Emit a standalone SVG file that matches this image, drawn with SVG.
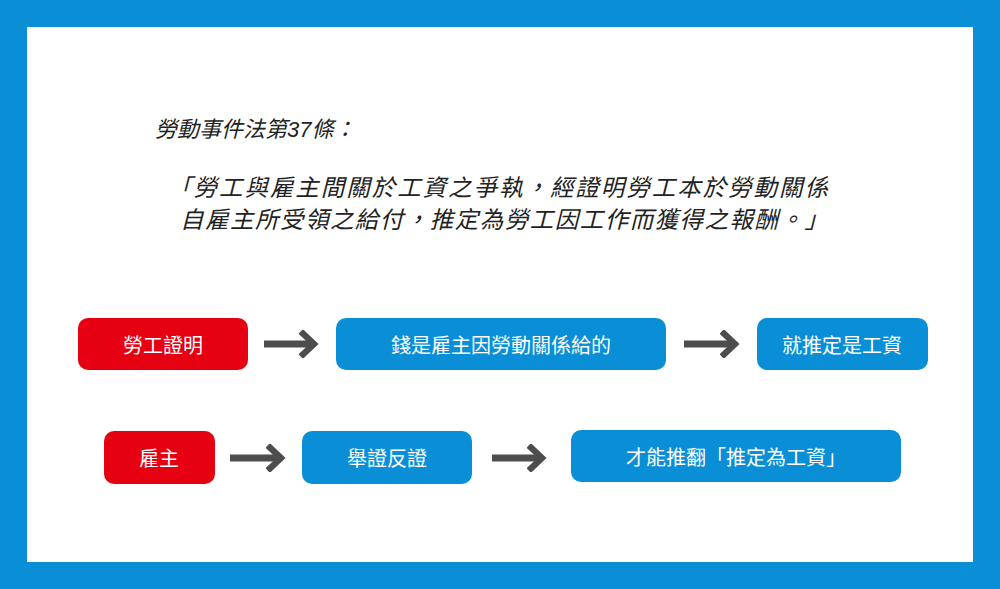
<svg xmlns="http://www.w3.org/2000/svg" width="1000" height="589" viewBox="0 0 1000 589">
<style>
.t{font-family:"Liberation Sans","Noto Sans CJK TC",sans-serif;font-style:italic;fill:#222}
.b{font-family:"Noto Sans CJK TC",sans-serif;font-size:20px;fill:#fff;text-anchor:middle;dominant-baseline:central}
.red{fill:#e50012}.blue{fill:#0a8fd6}
.arr{stroke:#4d4d4d;stroke-width:7;fill:none}
</style>
<defs><marker id="m" markerWidth="4" markerHeight="4" refX="2.2" refY="2" orient="auto" markerUnits="strokeWidth"><path d="M0.3,0.2 L2.2,2 L0.3,3.8" fill="none" stroke="#4d4d4d" stroke-width="0.9"/></marker></defs>
<rect x="0" y="0" width="1000" height="589" fill="#0a8fd6"/>
<rect x="27" y="27" width="946" height="535" fill="#fff"/>
<text class="t" x="155" y="137" font-size="22">勞動事件法第37條：</text>
<text class="t" x="168" y="196" font-size="23.5" textLength="660">「勞工與雇主間關於工資之爭執，經證明勞工本於勞動關係</text>
<text class="t" x="180" y="228" font-size="23.5" textLength="648">自雇主所受領之給付，推定為勞工因工作而獲得之報酬。」</text>
<g id="n1"><rect class="red" x="78" y="318" width="170" height="52" rx="10"/><text class="b" x="163" y="344">勞工證明</text></g>
<g id="n2"><rect class="blue" x="336" y="318" width="330" height="52" rx="10"/><text class="b" x="501" y="344">錢是雇主因勞動關係給的</text></g>
<g id="n3"><rect class="blue" x="757" y="318" width="171" height="52" rx="10"/><text class="b" x="842" y="344">就推定是工資</text></g>
<g id="n4"><rect class="red" x="104" y="431" width="111" height="53" rx="10"/><text class="b" x="159" y="457">雇主</text></g>
<g id="n5"><rect class="blue" x="302" y="431" width="170" height="53" rx="10"/><text class="b" x="387" y="457">舉證反證</text></g>
<g id="n6"><rect class="blue" x="571" y="430" width="330" height="52" rx="10"/><text class="b" x="736" y="456">才能推翻「推定為工資」</text></g>
<g id="connectors" class="arr">
<line x1="264" y1="344" x2="314" y2="344" marker-end="url(#m)"/>
<line x1="684" y1="344" x2="735" y2="344" marker-end="url(#m)"/>
<line x1="230" y1="458" x2="281" y2="458" marker-end="url(#m)"/>
<line x1="492" y1="458" x2="542" y2="458" marker-end="url(#m)"/>
</g>
</svg>
